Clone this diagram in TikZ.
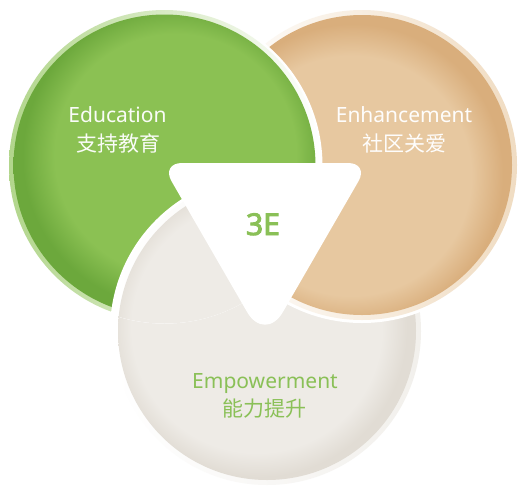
\documentclass[tikz,border=0pt]{standalone}
\usepackage{fontspec}
\setmainfont{Noto Sans}
\newfontfamily\cjk{Noto Sans CJK SC}
\newfontfamily\heavysans{Noto Sans}[FakeBold=3]
\definecolor{gmain}{HTML}{8BC153}
\definecolor{gdark}{HTML}{6CA83C}
\definecolor{grim}{HTML}{B2D68C}
\definecolor{tmain}{HTML}{E7C8A0}
\definecolor{tdark}{HTML}{D9AE7C}
\definecolor{trim}{HTML}{F0DCC2}
\definecolor{wmain}{HTML}{EEEBE6}
\definecolor{wdark}{HTML}{E1DCD4}
\definecolor{wrim}{HTML}{F2F0EC}
\definecolor{gtext}{HTML}{8AC057}
\pgfdeclareradialshading{gshade}{\pgfpoint{3bp}{3bp}}{color(0bp)=(gmain); color(20bp)=(gmain); color(25bp)=(gdark); color(50bp)=(gdark)}
\pgfdeclareradialshading{tshade}{\pgfpoint{-3bp}{-3bp}}{color(0bp)=(tmain); color(20bp)=(tmain); color(25bp)=(tdark); color(50bp)=(tdark)}
\pgfdeclareradialshading{wshade}{\pgfpoint{-3bp}{1bp}}{color(0bp)=(wmain); color(21bp)=(wmain); color(25bp)=(wdark); color(50bp)=(wdark)}
\newcommand\drawdisc[6]{%
  \fill[white] (#1) circle[radius=#2];
  \shade[#5] (#1) circle[radius=#3];
  \shade[shading=#6] (#1) circle[radius=#4];}
\tikzset{
  lbl/.style={font=\fontsize{21}{25}\selectfont, anchor=base, inner sep=0pt},
  lblcjk/.style={lbl, font=\fontsize{21}{25}\selectfont\cjk},
}
\begin{document}
\begin{tikzpicture}[x=1pt,y=-1pt]
\fill[white] (0,0) rectangle (519,485);
\useasboundingbox (0,0) rectangle (519,485);
\coordinate (cg) at (164.5,165.5);
\coordinate (ct) at (362,165);
\coordinate (cw) at (267,331);
% grey (bottom)
\drawdisc{cw}{157pt}{154pt}{149pt}{left color=white, right color=wrim}{wshade}
% tan over grey
\drawdisc{ct}{158pt}{155pt}{150pt}{left color=white, right color=trim}{tshade}
% green over tan
\drawdisc{cg}{158pt}{155.5pt}{151pt}{left color=grim, right color=white}{gshade}
% grey over green
\begin{scope}
  \clip (cg) circle[radius=158pt];
  \drawdisc{cw}{157pt}{154pt}{149pt}{left color=white, right color=wrim}{wshade}
\end{scope}
% central triangle
\fill[white] (265,163) [rounded corners=21pt] -- (369,163) -- (317,253)
  [rounded corners=36pt] -- (265,343) -- (213,253)
  [rounded corners=21pt] -- (161,163) -- cycle;
\node[font=\fontsize{30}{34}\selectfont\heavysans, text=gtext, anchor=base, inner sep=0pt] (e3) at (263,235) {3E};
% labels
\node[lbl, text=white!96!gmain] (edu) at (117.5,122) {Education};
\node[lblcjk, text=white!96!gmain] (educn) at (118,151) {支持教育};
\node[lbl, text=white!97!tmain] (enh) at (404,122) {Enhancement};
\node[lblcjk, text=white!97!tmain] (enhcn) at (404,151) {社区关爱};
\node[lbl, text=gtext] (emp) at (265,388.5) {Empowerment};
\node[lblcjk, text=gtext] (empcn) at (264.7,416.5) {能力提升};
\end{tikzpicture}
\end{document}
